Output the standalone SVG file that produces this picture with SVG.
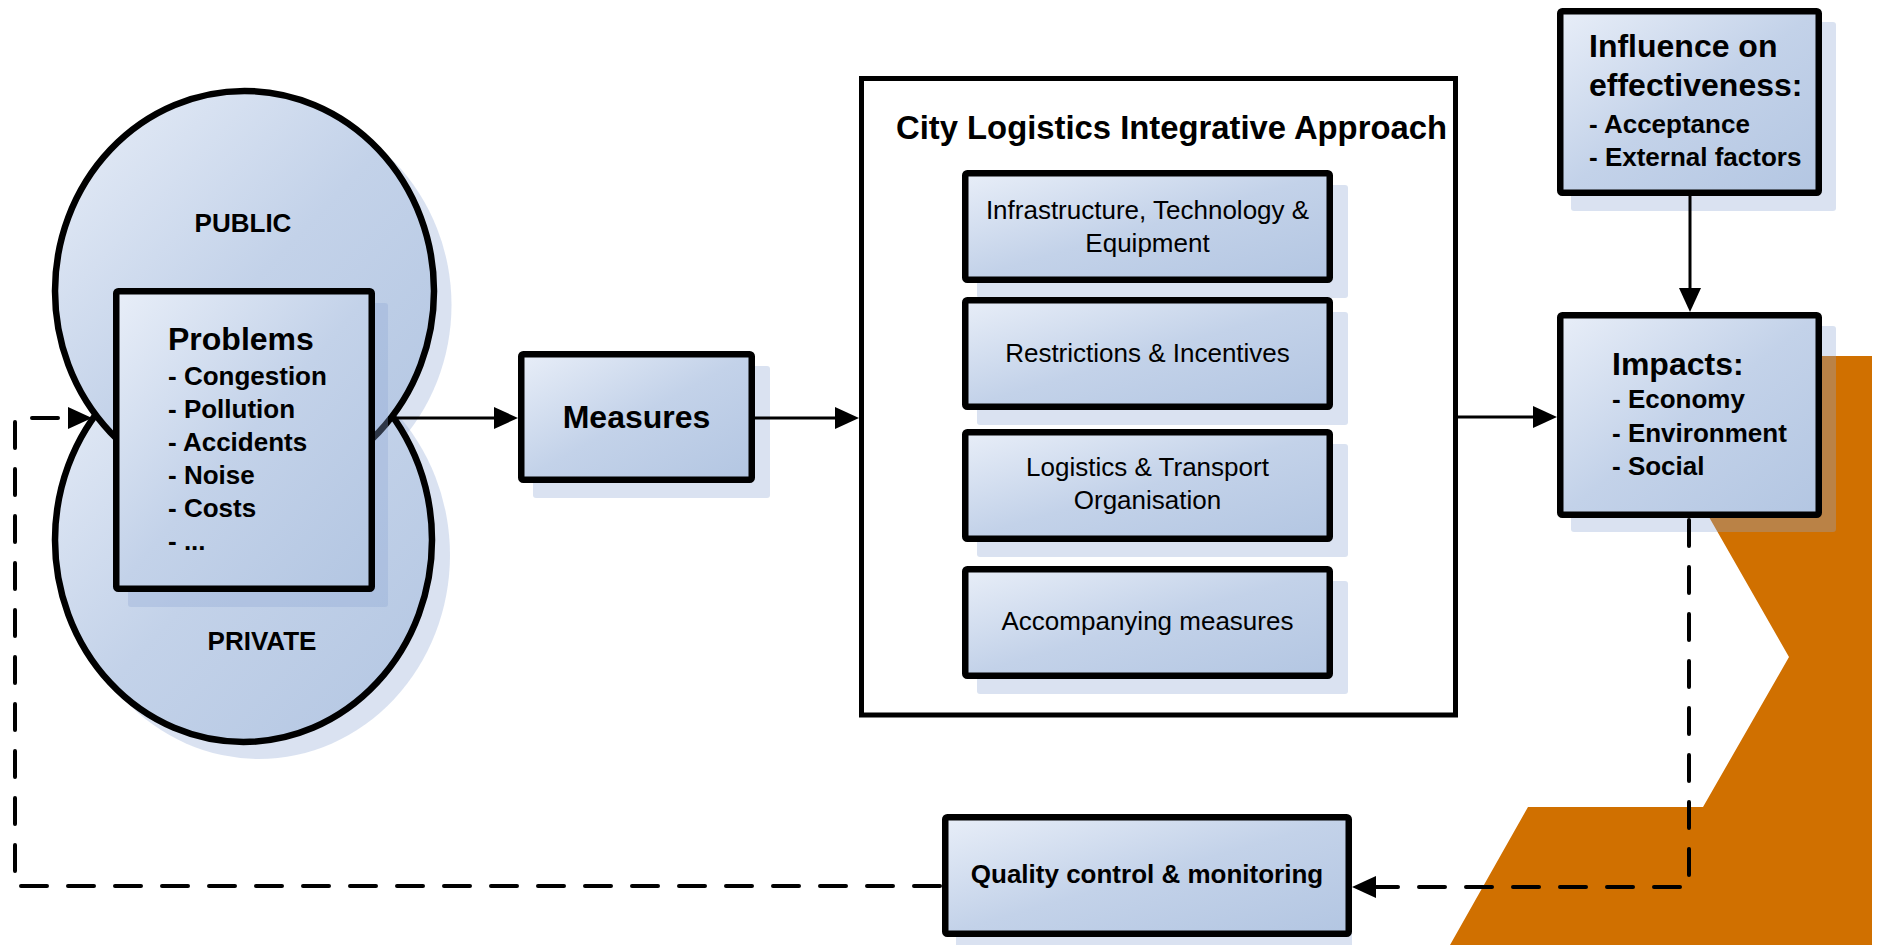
<svg xmlns="http://www.w3.org/2000/svg" width="1878" height="945" viewBox="0 0 1878 945">
  <defs>
    <linearGradient id="fillGrad" x1="0" y1="0" x2="1" y2="1">
      <stop offset="0" stop-color="#E8EEF8"/>
      <stop offset="0.5" stop-color="#C3D2E9"/>
      <stop offset="1" stop-color="#B3C6E2"/>
    </linearGradient>
    <marker id="arrow" viewBox="0 0 24 22" markerUnits="userSpaceOnUse" markerWidth="24" markerHeight="22" refX="14" refY="11" orient="auto">
      <path d="M0,0 L24,11 L0,22 Z" fill="#000"/>
    </marker>
    <style>
      .box { fill: url(#fillGrad); stroke: #000; stroke-width: 6.5; stroke-linejoin: round; }
      .frame { fill: #fff; stroke: #000; stroke-width: 5; }
      .shadow { fill: #8EA7D4; opacity: 0.33; }
      .conn { fill: none; stroke: #000; stroke-width: 3; }
      .dash { stroke-width: 4; stroke-dasharray: 26 21; stroke-linecap: round; }
      text { font-family: "Liberation Sans", Arial, Helvetica, sans-serif; fill: #000; }
      .h { font-size: 32px; font-weight: bold; }
      .title { font-size: 32.8px; font-weight: bold; }
      .li { font-size: 26px; font-weight: bold; }
      .reg { font-size: 26px; }
      .lbl { font-size: 26px; font-weight: bold; }
      .c { text-anchor: middle; }
    </style>
  </defs>

  <!-- orange backdrop shape on the right -->
  <polygon id="backdrop" points="1617,356 1872,356 1872,945 1450,945 1528,807 1703,807 1789,657" fill="#D07000"/>

  <!-- public / private lobes with the problems box -->
  <g id="problems">
    <ellipse class="shadow" cx="259" cy="555" rx="191" ry="204"/>
    <ellipse class="shadow" cx="259.5" cy="305" rx="192" ry="201"/>
    <ellipse class="box" cx="243.5" cy="540" rx="188.5" ry="202"/>
    <ellipse class="box" cx="244.5" cy="291" rx="189.5" ry="200"/>
    <text class="lbl c" x="243" y="232">PUBLIC</text>
    <text class="lbl c" x="262" y="650">PRIVATE</text>
    <rect class="shadow" x="128" y="303" width="260" height="304" rx="3"/>
    <rect class="box" x="116.25" y="291.25" width="255.5" height="297.5" rx="2"/>
    <text x="168" y="350" class="h">Problems</text>
    <text x="168" y="385" class="li">- Congestion</text>
    <text x="168" y="418" class="li">- Pollution</text>
    <text x="168" y="451" class="li">- Accidents</text>
    <text x="168" y="484" class="li">- Noise</text>
    <text x="168" y="517" class="li">- Costs</text>
    <text x="168" y="550" class="li">- ...</text>
  </g>

  <g id="measures">
    <rect class="shadow" x="533" y="366" width="237" height="132" rx="3"/>
    <rect class="box" x="521.25" y="354.25" width="230.5" height="125.5" rx="2"/>
    <text class="h c" x="636.5" y="428">Measures</text>
  </g>

  <g id="approach">
    <rect class="frame" x="861.5" y="78.5" width="594" height="636.5"/>
    <text class="title" x="896" y="139">City Logistics Integrative Approach</text>
  </g>

  <g id="infrastructure">
    <rect class="shadow" x="977" y="185" width="371" height="113" rx="3"/>
    <rect class="box" x="965.25" y="173.25" width="364.5" height="106.5" rx="2"/>
    <text class="reg c" x="1147.5" y="219">Infrastructure, Technology &amp;</text>
    <text class="reg c" x="1147.5" y="252">Equipment</text>
  </g>

  <g id="restrictions">
    <rect class="shadow" x="977" y="312" width="371" height="113" rx="3"/>
    <rect class="box" x="965.25" y="300.25" width="364.5" height="106.5" rx="2"/>
    <text class="reg c" x="1147.5" y="362">Restrictions &amp; Incentives</text>
  </g>

  <g id="organisation">
    <rect class="shadow" x="977" y="444" width="371" height="113" rx="3"/>
    <rect class="box" x="965.25" y="432.25" width="364.5" height="106.5" rx="2"/>
    <text class="reg c" x="1147.5" y="476">Logistics &amp; Transport</text>
    <text class="reg c" x="1147.5" y="509">Organisation</text>
  </g>

  <g id="accompanying">
    <rect class="shadow" x="977" y="581" width="371" height="113" rx="3"/>
    <rect class="box" x="965.25" y="569.25" width="364.5" height="106.5" rx="2"/>
    <text class="reg c" x="1147.5" y="630">Accompanying measures</text>
  </g>

  <g id="influence">
    <rect class="shadow" x="1571" y="22" width="265" height="189" rx="3"/>
    <rect class="box" x="1560.25" y="11.25" width="258.5" height="181.5" rx="2"/>
    <text class="h" x="1589" y="57">Influence on</text>
    <text class="h" x="1589" y="96">effectiveness:</text>
    <text class="li" x="1589" y="133">- Acceptance</text>
    <text class="li" x="1589" y="166">- External factors</text>
  </g>

  <g id="impacts">
    <rect class="shadow" x="1571" y="326" width="265" height="206" rx="3"/>
    <rect class="box" x="1560.25" y="315.25" width="258.5" height="199.5" rx="2"/>
    <text class="h" x="1612" y="375">Impacts:</text>
    <text class="li" x="1612" y="408">- Economy</text>
    <text class="li" x="1612" y="442">- Environment</text>
    <text class="li" x="1612" y="475">- Social</text>
  </g>

  <g id="quality">
    <rect class="shadow" x="956" y="828" width="396" height="123" rx="3"/>
    <rect class="box" x="945.25" y="817.25" width="403.5" height="116.5" rx="2"/>
    <text class="li c" x="1147" y="883">Quality control &amp; monitoring</text>
  </g>

  <g id="connectors">
    <path class="conn" d="M388,418 H508" marker-end="url(#arrow)"/>
    <path class="conn" d="M755,418 H849" marker-end="url(#arrow)"/>
    <path class="conn" d="M1458,417 H1547" marker-end="url(#arrow)"/>
    <path class="conn" d="M1690,196 V302" marker-end="url(#arrow)"/>
    <path class="conn dash" d="M1689,520 V887 H1362" marker-end="url(#arrow)"/>
    <path class="conn dash" d="M940,886 H15 V418 H82" marker-end="url(#arrow)"/>
  </g>
</svg>
